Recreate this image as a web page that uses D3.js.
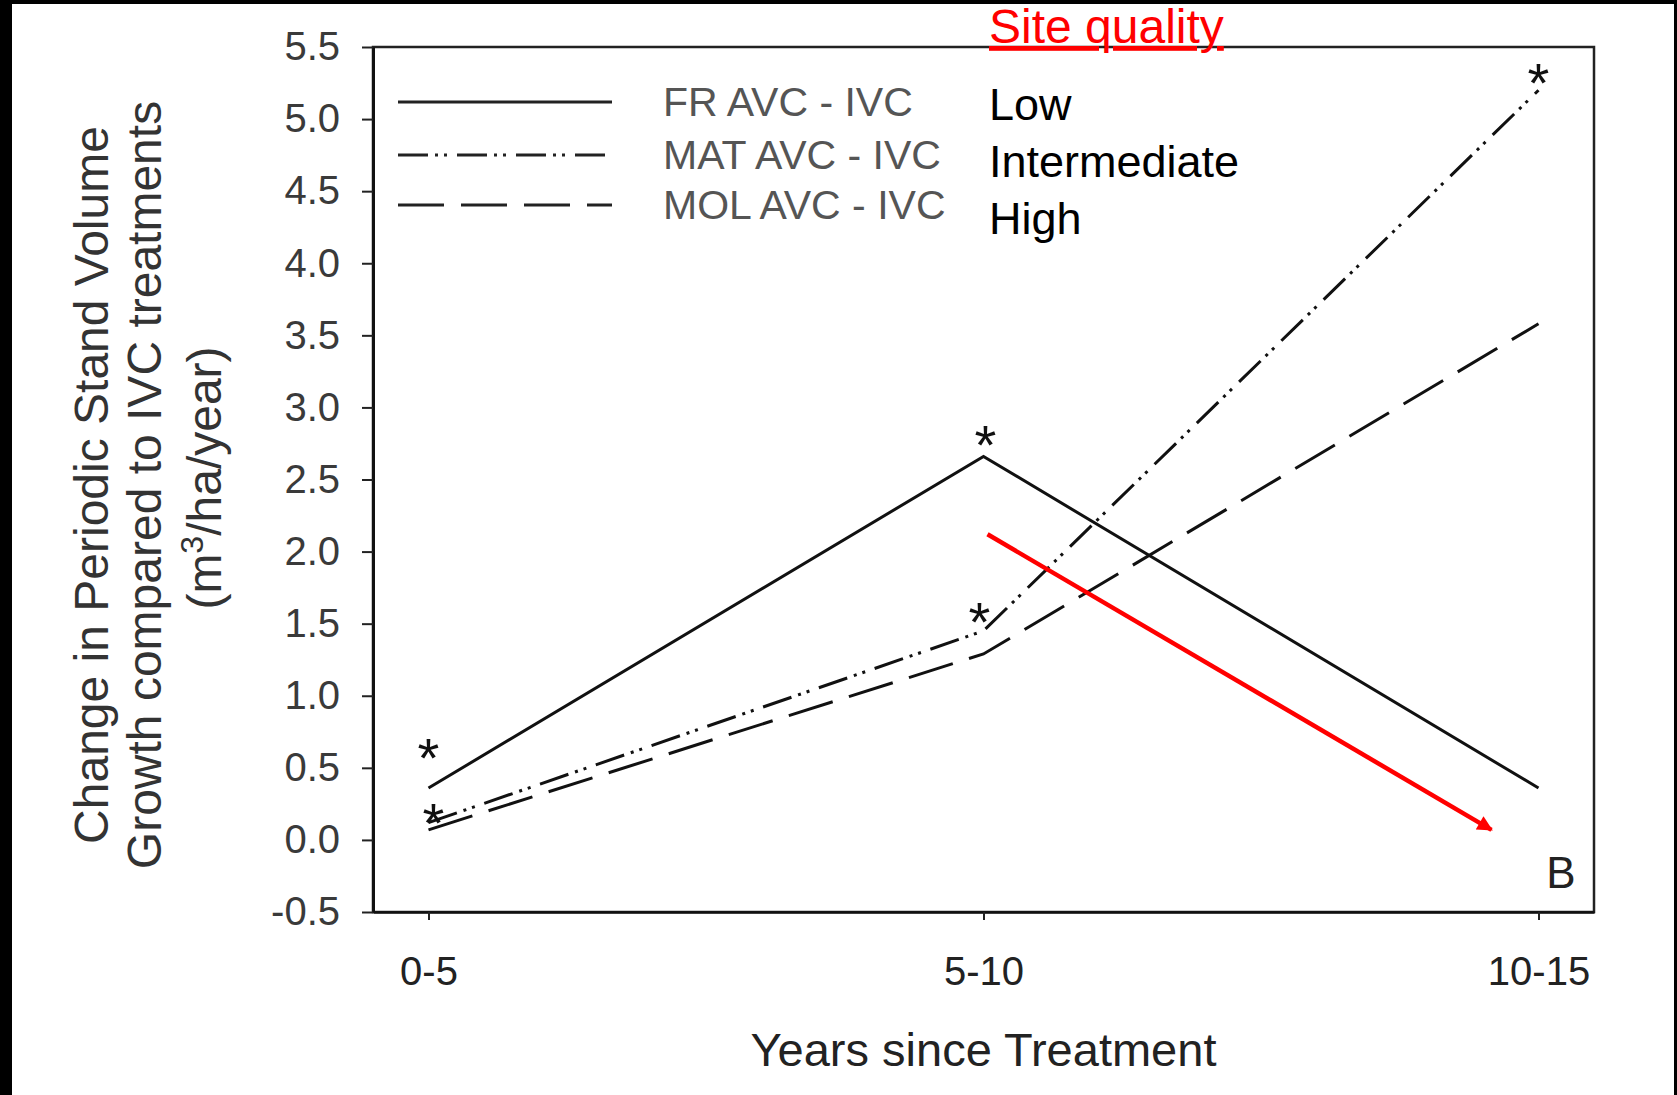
<!DOCTYPE html>
<html>
<head>
<meta charset="utf-8">
<script src="https://cdn.jsdelivr.net/npm/d3@7"></script>
<style>
  html, body { margin:0; padding:0; background:#fff; }
  svg text { font-family: "Liberation Sans", Arial, sans-serif; }
</style>
</head>
<body>
<div id="chart"></div>
<script>
// data
var periods = ["0-5", "5-10", "10-15"];
var frValues  = [0.36, 2.66, 0.36];
var matValues = [0.12, 1.45, 5.20];
var molValues = [0.07, 1.29, 3.58];
var seriesNames = ["FR AVC - IVC", "MAT AVC - IVC", "MOL AVC - IVC"];
var siteQuality = ["Low", "Intermediate", "High"];
var yTicks = [-0.5, 0, 0.5, 1, 1.5, 2, 2.5, 3, 3.5, 4, 4.5, 5, 5.5];
// significant points (series index, period index)
var stars = [[0, 0], [1, 0], [0, 1], [1, 1], [1, 2]];

var fullWidth = 1677, fullHeight = 1095;
var margin = {top:47, left:373, right:83, bottom:183};
var width = fullWidth - margin.left - margin.right;   // 1221
var height = fullHeight - margin.top - margin.bottom; // 865

var root = d3.select("#chart").append("svg")
    .attr("width", fullWidth)
    .attr("height", fullHeight);

// black frame strips of the slide
root.append("rect").attr("x",0).attr("y",0).attr("width",12).attr("height",fullHeight).attr("fill","#000");
root.append("rect").attr("x",0).attr("y",0).attr("width",fullWidth).attr("height",4).attr("fill","#000");
root.append("rect").attr("x",1674).attr("y",0).attr("width",3).attr("height",fullHeight).attr("fill","#000");

var svg = root.append("g")
    .attr("transform", "translate(" + margin.left + "," + margin.top + ")");

var xScale = d3.scalePoint().domain(periods).range([0, width]).padding(0.1);
var yScale = d3.scaleLinear().domain([-0.5, 5.5]).range([height, 0]);

// box
svg.append("rect")
    .attr("width", width).attr("height", height)
    .attr("fill", "none").attr("stroke", "#222").attr("stroke-width", 2.5);

var fmt = d3.format(".1f");
var yAxis = d3.axisLeft(yScale).tickValues(yTicks)
    .tickFormat(function(d){ return fmt(d).replace("\u2212", "-"); })
    .tickSizeInner(11).tickSizeOuter(0).tickPadding(22);
var gy = svg.append("g").call(yAxis);
gy.select(".domain").attr("stroke", "#111").attr("stroke-width", 3);
gy.selectAll(".tick line").attr("stroke", "#222").attr("stroke-width", 2);
gy.selectAll(".tick text").attr("font-size", 40).attr("fill", "#3a3a3a")
    .attr("font-family", "Liberation Sans, Arial, sans-serif");

var xAxis = d3.axisBottom(xScale).tickSizeInner(8).tickSizeOuter(0).tickPadding(37);
var gx = svg.append("g").attr("transform", "translate(0," + height + ")").call(xAxis);
gx.select(".domain").attr("stroke", "#111").attr("stroke-width", 2.5);
gx.selectAll(".tick line").attr("stroke", "#222").attr("stroke-width", 2);
gx.selectAll(".tick text").attr("font-size", 40).attr("fill", "#222")
    .attr("font-family", "Liberation Sans, Arial, sans-serif");

// lines
var seriesValues = [frValues, matValues, molValues];
var dashes = [null, "30,7,3,6,3,10", "46,17"];
var line = d3.line()
    .x(function(d, i){ return xScale(periods[i]); })
    .y(function(d){ return yScale(d); });

seriesValues.forEach(function(vals, k){
  svg.append("path")
    .datum(vals)
    .attr("d", line)
    .attr("fill", "none")
    .attr("stroke", "#111")
    .attr("stroke-width", 3)
    .attr("stroke-dasharray", dashes[k]);
});

// asterisks
var starOffsets = [[0, -42], [5, -12], [2, -23], [-4, -21], [0, -19]];
stars.forEach(function(s, i){
  var v = seriesValues[s[0]][s[1]];
  svg.append("text")
    .attr("x", xScale(periods[s[1]]) + starOffsets[i][0])
    .attr("y", yScale(v) + starOffsets[i][1] + 31)
    .attr("text-anchor", "middle")
    .attr("font-size", 56)
    .attr("fill", "#111")
    .text("*");
});

// legend
var legY = [55, 108, 158];
seriesNames.forEach(function(name, k){
  svg.append("line")
    .attr("x1", 25).attr("x2", 239)
    .attr("y1", legY[k]).attr("y2", legY[k])
    .attr("stroke", "#222").attr("stroke-width", 3)
    .attr("stroke-dasharray", dashes[k]);
  svg.append("text")
    .attr("x", 290).attr("y", legY[k]).attr("dy", "0.35em")
    .attr("font-size", 41).attr("fill", "#555")
    .text(name);
});

// site quality annotation
var sqY = [57, 113.5, 171];
siteQuality.forEach(function(t, k){
  svg.append("text")
    .attr("x", 616).attr("y", sqY[k]).attr("dy", "0.36em")
    .attr("font-family", "Lato, sans-serif")
    .attr("font-size", 45).attr("fill", "#000")
    .text(t);
});
svg.append("text")
    .attr("x", 616).attr("y", -4)
    .attr("font-family", "Lato, sans-serif")
    .attr("font-size", 48).attr("fill", "#ff0000")
    .style("text-decoration", "underline")
    .text("Site quality");

// panel letter
svg.append("text")
    .attr("x", width - 33).attr("y", height - 40).attr("dy", "0.36em")
    .attr("text-anchor", "middle")
    .attr("font-size", 44).attr("fill", "#222")
    .text("B");

// red arrow
root.append("defs").append("marker")
    .attr("id", "arrow").attr("viewBox", "0 0 10 10")
    .attr("refX", 9).attr("refY", 5)
    .attr("markerWidth", 5).attr("markerHeight", 3.4)
    .attr("orient", "auto")
    .append("path").attr("d", "M0,0 L10,5 L0,10 z").attr("fill", "#ff0000");
svg.append("line")
    .attr("x1", xScale("5-10") + 4).attr("y1", yScale(2.12))
    .attr("x2", xScale("10-15") - 47).attr("y2", yScale(0.07))
    .attr("stroke", "#ff0000").attr("stroke-width", 4.5)
    .attr("marker-end", "url(#arrow)");

// axis titles
svg.append("text")
    .attr("x", xScale("5-10")).attr("y", height + 138).attr("dy", "0.35em")
    .attr("text-anchor", "middle")
    .attr("font-size", 47).attr("fill", "#222")
    .text("Years since Treatment");

var ytitle = [
  {x:108, text:"Change in Periodic Stand Volume"},
  {x:161, text:"Growth compared to IVC treatments"}
];
ytitle.forEach(function(t){
  root.append("text")
    .attr("transform", "translate(" + t.x + ",485) rotate(-90)")
    .attr("text-anchor", "middle")
    .attr("font-size", 48).attr("fill", "#333")
    .text(t.text);
});
var t3 = root.append("text")
    .attr("transform", "translate(221,478) rotate(-90)")
    .attr("text-anchor", "middle")
    .attr("font-size", 48).attr("fill", "#333");
t3.append("tspan").text("(m");
t3.append("tspan").attr("dy", -18).attr("font-size", 32).text("3");
t3.append("tspan").attr("dy", 18).text("/ha/year)");
</script>
</body>
</html>
